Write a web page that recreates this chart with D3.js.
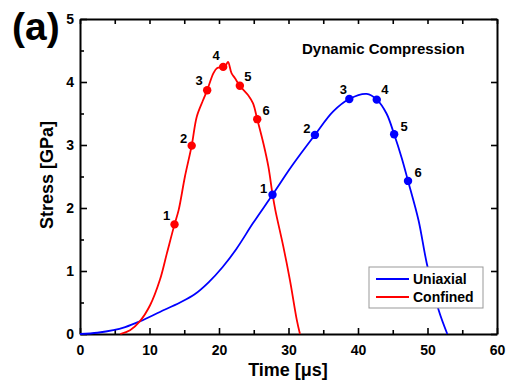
<!DOCTYPE html>
<html>
<head>
<meta charset="utf-8">
<script src="https://cdn.jsdelivr.net/npm/d3@7"></script>
<style>
  body { margin: 0; background: #fff; }
  svg { display: block; font-family: "Liberation Sans", Arial, sans-serif; }
</style>
</head>
<body>
<script>
// curves (time in µs, stress in GPa)
const confinedTime = [5.8, 7.2, 8.6, 10.1, 11.5, 12.5, 13.6, 14.2, 15.1, 16.07, 16.8, 17.7, 18.3, 19.2, 19.7, 20.6, 21.0, 21.3, 21.8, 22.3, 23.0, 24.2, 24.9, 25.5, 26.4, 27.1, 27.7, 28.1, 29.25, 30.2, 31.2, 31.65];
const confinedStress = [0, 0.06, 0.2, 0.46, 0.86, 1.28, 1.74, 1.97, 2.5, 2.99, 3.45, 3.71, 3.87, 4.14, 4.22, 4.24, 4.27, 4.32, 4.14, 4.06, 3.94, 3.79, 3.66, 3.41, 3.02, 2.66, 2.22, 1.97, 1.39, 0.86, 0.22, 0];

const uniaxialTime = [0, 2.5, 4.8, 6.5, 8.6, 11.5, 14.4, 16.5, 18.5, 20.5, 22.5, 24.9, 27.7, 30.5, 33.8, 36.4, 38.75, 41.25, 42.7, 44.1, 45.2, 46.3, 47.2, 48.7, 49.9, 51.6, 52.85];
const uniaxialStress = [0, 0.02, 0.06, 0.11, 0.2, 0.35, 0.5, 0.63, 0.82, 1.06, 1.35, 1.76, 2.21, 2.67, 3.16, 3.53, 3.73, 3.81, 3.72, 3.5, 3.17, 2.79, 2.43, 1.81, 1.12, 0.38, 0];

// numbered marker points
const pointLabels = ["1", "2", "3", "4", "5", "6"];
const confinedPtTime = [13.6, 16.07, 18.3, 20.6, 23.0, 25.5];
const confinedPtStress = [1.74, 2.99, 3.87, 4.24, 3.94, 3.41];
const uniaxialPtTime = [27.7, 33.8, 38.75, 42.7, 45.2, 47.2];
const uniaxialPtStress = [2.21, 3.16, 3.73, 3.72, 3.17, 2.43];

const xTicks = [0, 10, 20, 30, 40, 50, 60];
const yTicks = [0, 1, 2, 3, 4, 5];

// label offsets from each marker (layout only)
const confinedOffsets = [[-8, -9], [-8, -7], [-8, -10], [-7, -12], [8, -9], [9, -9]];
const uniaxialOffsets = [[-9, -6], [-8, -7], [-6, -10], [8, -10], [10, -8], [10, -9]];

const W = 510, H = 386;
const plotLeft = 80, plotRight = 497, plotTop = 19, plotBottom = 334;

const svg = d3.select("body").append("svg").attr("width", W).attr("height", H);

const x = d3.scaleLinear().domain([0, 60]).range([plotLeft, plotRight]);
const y = d3.scaleLinear().domain([0, 5]).range([plotBottom, plotTop]);

const minorX = d3.range(5, 60, 10);
const minorY = d3.range(0.5, 5, 1);

function styleAxis(g) {
  g.select(".domain").attr("stroke", "#000").attr("stroke-width", 2);
  g.selectAll(".tick line").attr("stroke", "#000").attr("stroke-width", 1.6);
  g.selectAll("text").attr("fill", "#000").style("font-weight", "bold").style("font-size", "14px");
}

// bottom
svg.append("g").attr("transform", `translate(0,${plotBottom})`)
  .call(d3.axisBottom(x).tickValues(xTicks).tickSize(-6).tickSizeOuter(0).tickPadding(11))
  .call(styleAxis);
svg.append("g").attr("transform", `translate(0,${plotBottom})`)
  .call(d3.axisBottom(x).tickValues(minorX).tickSize(-4).tickFormat("").tickSizeOuter(0))
  .call(g => g.select(".domain").remove())
  .call(styleAxis);
// left
svg.append("g").attr("transform", `translate(${plotLeft},0)`)
  .call(d3.axisLeft(y).tickValues(yTicks).tickSize(-7).tickSizeOuter(0).tickPadding(6).tickFormat(d3.format("d")))
  .call(styleAxis);
svg.append("g").attr("transform", `translate(${plotLeft},0)`)
  .call(d3.axisLeft(y).tickValues(minorY).tickSize(-4).tickFormat("").tickSizeOuter(0))
  .call(g => g.select(".domain").remove())
  .call(styleAxis);
// top (mirror)
svg.append("g").attr("transform", `translate(0,${plotTop})`)
  .call(d3.axisTop(x).tickValues(xTicks.concat(minorX)).tickSize(-5).tickFormat("").tickSizeOuter(0))
  .call(styleAxis);
// right (mirror)
svg.append("g").attr("transform", `translate(${plotRight},0)`)
  .call(d3.axisRight(y).tickValues(yTicks).tickSize(-6).tickFormat("").tickSizeOuter(0))
  .call(styleAxis);

// curves
const line = d3.line().x(d => x(d[0])).y(d => y(d[1])).curve(d3.curveCatmullRom.alpha(0.5));

const uniaxial = d3.zip(uniaxialTime, uniaxialStress);
const confined = d3.zip(confinedTime, confinedStress);

svg.append("path").datum(uniaxial)
  .attr("fill", "none").attr("stroke", "#0000ff").attr("stroke-width", 1.8)
  .attr("d", line);
svg.append("path").datum(confined)
  .attr("fill", "none").attr("stroke", "#ff0000").attr("stroke-width", 1.8)
  .attr("d", line);

function markers(times, stresses, offsets, color) {
  const pts = times.map((t, i) => ({ t: t, s: stresses[i], lab: pointLabels[i], off: offsets[i] }));
  svg.append("g").selectAll("circle").data(pts).enter().append("circle")
    .attr("cx", d => x(d.t)).attr("cy", d => y(d.s)).attr("r", 4.2).attr("fill", color);
  svg.append("g").selectAll("text").data(pts).enter().append("text")
    .attr("x", d => x(d.t) + d.off[0]).attr("y", d => y(d.s) + d.off[1])
    .attr("dy", "0.36em").attr("text-anchor", "middle")
    .style("font-size", "13px").style("font-weight", "bold")
    .text(d => d.lab);
}
markers(confinedPtTime, confinedPtStress, confinedOffsets, "#ff0000");
markers(uniaxialPtTime, uniaxialPtStress, uniaxialOffsets, "#0000ff");

// titles
svg.append("text").attr("x", 302).attr("y", 54)
  .style("font-size", "15px").style("font-weight", "bold")
  .text("Dynamic Compression");

svg.append("text").attr("x", 288).attr("y", 376).attr("text-anchor", "middle")
  .style("font-size", "18px").style("font-weight", "bold")
  .text("Time [μs]");

svg.append("text").attr("transform", "translate(53,175) rotate(-90)").attr("text-anchor", "middle")
  .style("font-size", "18px").style("font-weight", "bold")
  .text("Stress [GPa]");

svg.append("text").attr("x", 12).attr("y", 40)
  .style("font-size", "39px").style("font-weight", "bold")
  .text("(a)");
// next panel's label, only its top edge shows in the frame
svg.append("text").attr("x", 14).attr("y", 415)
  .style("font-size", "38px").style("font-weight", "bold")
  .text("(b)");

// legend
const legend = svg.append("g");
legend.append("rect").attr("x", 369).attr("y", 267).attr("width", 114).attr("height", 41)
  .attr("fill", "#fff").attr("stroke", "#999").attr("stroke-width", 1);
const legendItems = [["Uniaxial", "#0000ff"], ["Confined", "#ff0000"]];
legendItems.forEach((d, i) => {
  const yy = 279 + i * 18;
  legend.append("line").attr("x1", 376).attr("x2", 409).attr("y1", yy).attr("y2", yy)
    .attr("stroke", d[1]).attr("stroke-width", 1.8);
  legend.append("text").attr("x", 413).attr("y", yy).attr("dy", "0.36em")
    .style("font-size", "14px").style("font-weight", "bold")
    .text(d[0]);
});
</script>
</body>
</html>
